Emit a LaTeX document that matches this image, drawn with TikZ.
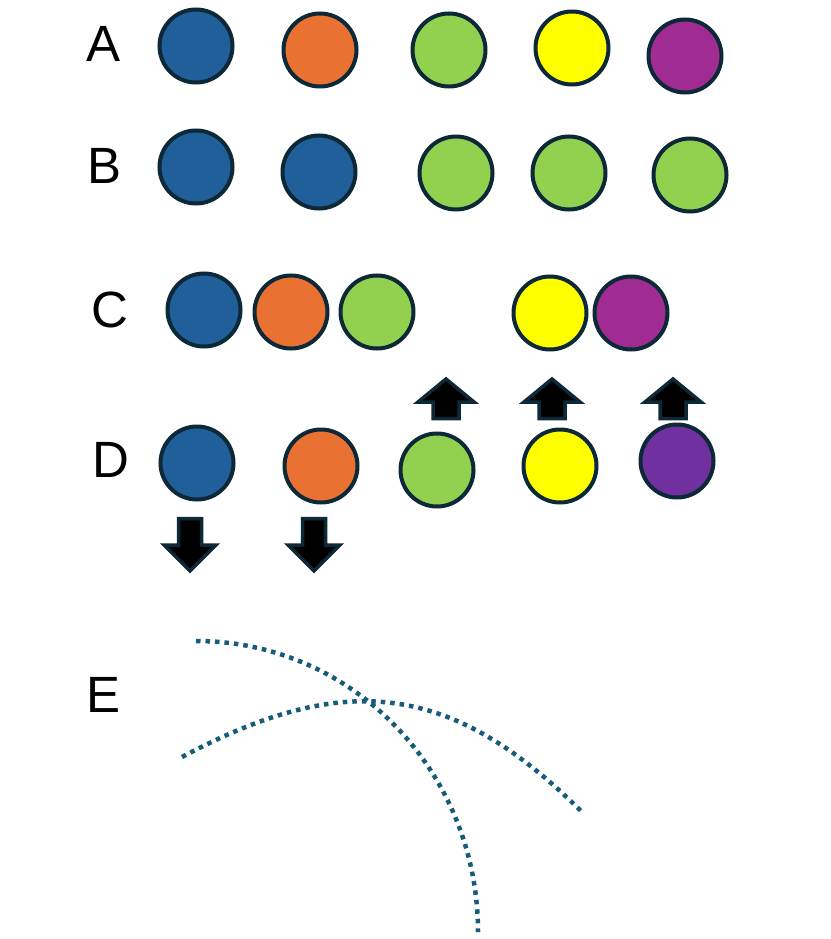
\documentclass[tikz,border=0pt]{standalone}
\usepackage{fontspec}
\setmainfont{Liberation Sans}
\definecolor{ballblue}{RGB}{33,95,154}
\definecolor{ballorange}{RGB}{233,113,50}
\definecolor{ballgreen}{RGB}{146,208,80}
\definecolor{ballyellow}{RGB}{255,255,0}
\definecolor{ballmagenta}{RGB}{160,43,147}
\definecolor{ballpurple}{RGB}{112,48,160}
\definecolor{rim}{RGB}{13,40,55}
\definecolor{trail}{RGB}{22,92,120}
\tikzset{
  ball/.style={circle,draw=rim,line width=4pt,minimum size=73pt,inner sep=0pt},
  rowlabel/.style={font=\fontsize{51}{51}\selectfont,inner sep=0pt},
  arrowbox/.style={draw=rim,fill=black,line width=3.5pt,line join=miter},
  trailline/.style={draw=trail,line width=4.5pt,dash pattern=on 4.5pt off 5pt},
  pics/uparr/.style={code={
    \path[arrowbox] (-13,-1.5) -- (-13,-18) -- (-28,-18) -- (0,-41) -- (28,-18) -- (13,-18) -- (13,-1.5) -- cycle;}},
  pics/downarr/.style={code={
    \path[arrowbox] (-11.5,1.5) -- (11.5,1.5) -- (11.5,28) -- (26,28) -- (0,54) -- (-26,28) -- (-11.5,28) -- cycle;}}
}
\begin{document}
\begin{tikzpicture}[x=1pt,y=-1pt]
\useasboundingbox (0,0) rectangle (830,939);
% Row labels
\node[rowlabel] (la) at (104,44) {A};
\node[rowlabel] (lb) at (105,166) {B};
\node[rowlabel] (lc) at (110,310) {C};
\node[rowlabel] (ld) at (111,460) {D};
\node[rowlabel] (le) at (104,695) {E};
% Row A
\node[ball,fill=ballblue] (a1) at (196,46) {};
\node[ball,fill=ballorange] (a2) at (320,50) {};
\node[ball,fill=ballgreen] (a3) at (449,50) {};
\node[ball,fill=ballyellow] (a4) at (572,48) {};
\node[ball,fill=ballmagenta] (a5) at (685,56) {};
% Row B
\node[ball,fill=ballblue] (b1) at (196,167) {};
\node[ball,fill=ballblue] (b2) at (319,172) {};
\node[ball,fill=ballgreen] (b3) at (456,173) {};
\node[ball,fill=ballgreen] (b4) at (569,173) {};
\node[ball,fill=ballgreen] (b5) at (690,175) {};
% Row C
\node[ball,fill=ballblue] (c1) at (204,310) {};
\node[ball,fill=ballorange] (c2) at (291,312) {};
\node[ball,fill=ballgreen] (c3) at (377,312) {};
\node[ball,fill=ballyellow] (c4) at (550,313) {};
\node[ball,fill=ballmagenta] (c5) at (631,313) {};
% Row D
\node[ball,fill=ballblue] (d1) at (197,463) {};
\node[ball,fill=ballorange] (d2) at (321,466) {};
\node[ball,fill=ballgreen] (d3) at (437,470) {};
\node[ball,fill=ballyellow] (d4) at (560,466) {};
\node[ball,fill=ballpurple] (d5) at (677,461) {};
% Arrows up and down
\pic at (446,420) {uparr};
\pic at (552,420) {uparr};
\pic at (673,420) {uparr};
\pic at (190,517) {downarr};
\pic at (314,517) {downarr};
% Row E curves
\coordinate (e1s) at (196,641);
\coordinate (e1e) at (478,932);
\coordinate (e2s) at (182,757);
\coordinate (e2e) at (583,813);
\draw[trailline] (e1s) .. controls (352,641) and (478,771) .. (e1e);
\draw[trailline] (e2s) .. controls (345,670) and (452,682) .. (e2e);
\end{tikzpicture}
\end{document}
